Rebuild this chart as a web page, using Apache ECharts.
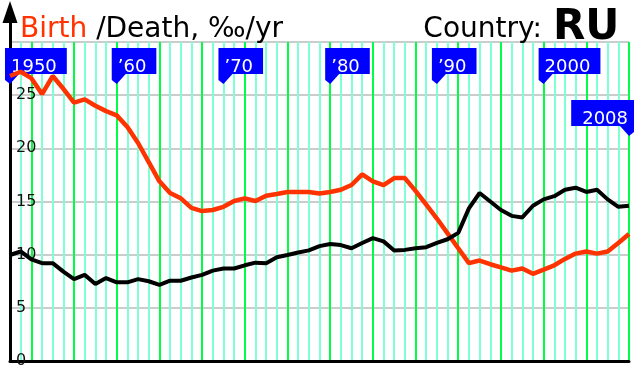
<!DOCTYPE html>
<html><head><meta charset="utf-8">
<script src="https://cdn.jsdelivr.net/npm/echarts@6/dist/echarts.min.js"></script>
<style>html,body{margin:0;padding:0;background:#fff}#c{width:640px;height:373px}</style>
</head><body><div id="c"></div>
<script>
const years = [1950,1951,1952,1953,1954,1955,1956,1957,1958,1959,
  1960,1961,1962,1963,1964,1965,1966,1967,1968,1969,
  1970,1971,1972,1973,1974,1975,1976,1977,1978,1979,
  1980,1981,1982,1983,1984,1985,1986,1987,1988,1989,
  1990,1991,1992,1993,1994,1995,1996,1997,1998,1999,
  2000,2001,2002,2003,2004,2005,2006,2007,2008];
const birthRate = [26.8,27.2,26.6,25.1,26.8,25.6,24.3,24.6,24.0,23.5,
  23.1,22.0,20.5,18.7,16.9,15.8,15.3,14.4,14.1,14.2,
  14.5,15.05,15.3,15.05,15.55,15.7,15.9,15.9,15.9,15.75,
  15.9,16.1,16.55,17.55,16.9,16.55,17.2,17.2,16.0,14.7,
  13.4,12.0,10.6,9.2,9.45,9.1,8.8,8.5,8.7,8.2,
  8.6,9.0,9.6,10.1,10.3,10.1,10.3,11.1,11.95];
const deathRate = [9.97,10.3,9.55,9.2,9.2,8.4,7.7,8.1,7.25,7.8,
  7.4,7.4,7.7,7.5,7.15,7.55,7.55,7.85,8.1,8.5,
  8.7,8.7,9.0,9.25,9.2,9.75,9.97,10.2,10.4,10.8,
  11.0,10.9,10.6,11.1,11.55,11.25,10.4,10.45,10.6,10.7,
  11.1,11.45,12.05,14.35,15.8,15.0,14.2,13.65,13.5,14.6,
  15.2,15.5,16.1,16.3,15.9,16.1,15.2,14.5,14.6];
const yTickLabels = ['0','5','10','15','20','25'];
const flagYears = [1950,1960,1970,1980,1990,2000,2008];
const flagLabels = ['1950','\u201960','\u201970','\u201980','\u201990','2000','2008'];

const RED = '#ff3300';
const FONT = '"DejaVu Sans", sans-serif';
const chart = echarts.init(document.getElementById('c'), null, {renderer:'canvas'});

const option = {
  animation: false,
  backgroundColor: '#fff',
  title: [
    {text: '{r|Birth} /Death, \u2030/yr', left: 20, top: 16, padding: 0,
     textStyle: {fontFamily: FONT, fontSize: 28, fontWeight: 'normal', color: '#000',
       rich: {r: {color: RED, fontFamily: FONT, fontSize: 28}}}},
    {text: 'Country:', right: 98, top: 16, padding: 0,
     textStyle: {fontFamily: FONT, fontSize: 28, fontWeight: 'normal', color: '#000'}},
    {text: 'RU', left: 553, top: 7, padding: 0,
     textStyle: {fontFamily: FONT, fontSize: 42, fontWeight: 'bold', color: '#000'}}
  ],
  grid: [
    {left: 10, right: 11, top: 42, bottom: 12, containLabel: false},
    {left: 10, right: 11, top: 12, bottom: 12, containLabel: false}
  ],
  xAxis: [
    {type: 'value', gridIndex: 0, min: 1950, max: 2008, interval: 1,
     axisLine: {show: true, onZero: false, lineStyle: {color: '#000', width: 3}},
     axisTick: {show: false}, axisLabel: {show: false},
     splitLine: {show: true, showMinLine: true, showMaxLine: true,
       lineStyle: {color: ['#7fffd4','#7fffd4','#00ff44','#7fffd4'], width: 2}}},
    {type: 'value', gridIndex: 1, min: 0, max: 1, show: false}
  ],
  yAxis: [
    {type: 'value', gridIndex: 0, min: 0, max: 30, interval: 5,
     axisLine: {show: false}, axisTick: {show: false},
     axisLabel: {show: true, inside: true, margin: 6, color: '#111', fontSize: 16, fontFamily: FONT,
       formatter: function (v) { const i = Math.round(v / 5); return yTickLabels[i] !== undefined ? yTickLabels[i] : ''; }},
     splitLine: {show: true, lineStyle: {color: '#cccccc', width: 2}}},
    {type: 'value', gridIndex: 1, min: 0, max: 1,
     axisLine: {show: true, onZero: false, lineStyle: {color: '#000', width: 3},
       symbol: ['none', 'triangle'], symbolSize: [15, 22]},
     axisTick: {show: false}, axisLabel: {show: false}, splitLine: {show: false}}
  ],
  series: [
    {type: 'custom', xAxisIndex: 0, yAxisIndex: 0, clip: false, z: 3,
     data: flagYears.map(function (y, i) { return [y, i]; }),
     renderItem: function (params, api) {
       const year = api.value(0), i = api.value(1);
       const cs = params.coordSys;
       const tx = api.coord([year, 0])[0];
       const right = i === flagYears.length - 1;
       const ty = cs.y + (right ? 94 : 42);
       const pts = right
         ? [[tx + 5, ty - 10], [tx + 5, ty - 4], [tx, ty], [tx - 9, ty - 10]]
         : [[tx - 5, ty - 10], [tx - 5, ty - 4], [tx, ty], [tx + 9, ty - 10]];
       return {type: 'group', children: [
         {type: 'polygon', shape: {points: pts}, style: {fill: '#0000ff'}},
         {type: 'text', style: {text: flagLabels[i], x: right ? tx + 5 : tx - 5, y: ty - 10,
           align: right ? 'right' : 'left', verticalAlign: 'bottom',
           font: '18px ' + FONT, fill: '#fff', backgroundColor: '#0000ff',
           padding: right ? [12, 6, 0, 11] : [12, 10, 0, 6], lineHeight: 14}}
       ]};
     }},
    {type: 'line', name: 'Birth', xAxisIndex: 0, yAxisIndex: 0, z: 4,
     data: years.map(function (y, i) { return [y, birthRate[i]]; }),
     showSymbol: false, symbol: 'none', lineStyle: {color: RED, width: 4.5}},
    {type: 'line', name: 'Death', xAxisIndex: 0, yAxisIndex: 0, z: 4,
     data: years.map(function (y, i) { return [y, deathRate[i]]; }),
     showSymbol: false, symbol: 'none', lineStyle: {color: '#000', width: 4}}
  ]
};
chart.setOption(option);
</script>
</body></html>
